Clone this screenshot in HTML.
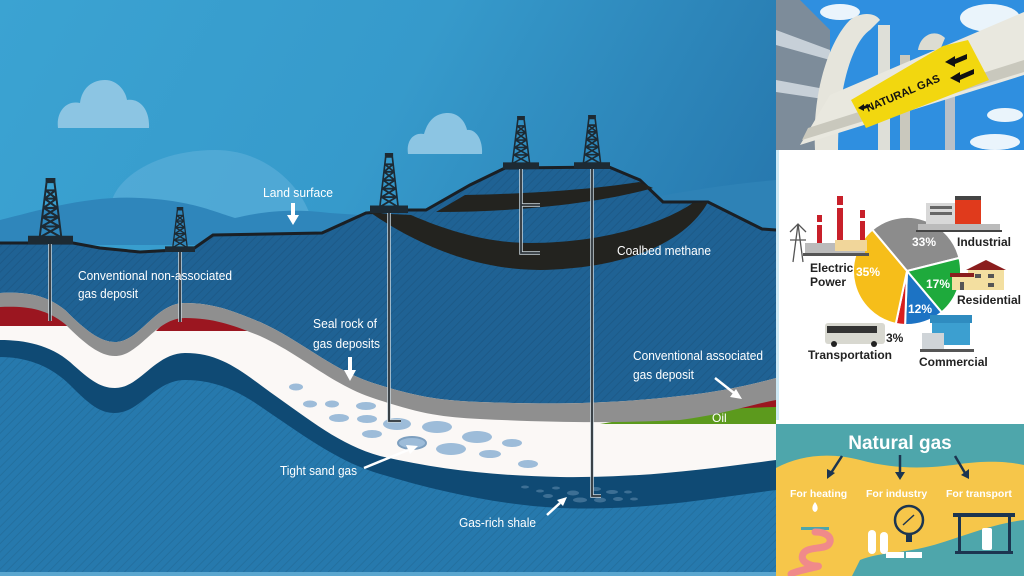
<!DOCTYPE html>
<html><head><meta charset="utf-8"><style>
html,body{margin:0;padding:0;width:1024px;height:576px;overflow:hidden;background:#fff}
svg{display:block}
.lb{font-family:"Liberation Sans Narrow","Liberation Sans",sans-serif;font-size:13px;fill:#fff}
.pl{font-family:"Liberation Sans Narrow","Liberation Sans",sans-serif;font-size:12px;font-weight:bold;fill:#222}
.pc{font-family:"Liberation Sans",sans-serif;font-size:12px;font-weight:bold;fill:#fff}
.ng{font-family:"Liberation Sans",sans-serif;font-weight:bold;fill:#fff}
</style></head><body>
<svg width="1024" height="576" viewBox="0 0 1024 576" xmlns="http://www.w3.org/2000/svg">
<defs>
<linearGradient id="sky" x1="0" y1="0" x2="1" y2="0.4">
<stop offset="0" stop-color="#3ba3d2"/><stop offset="0.5" stop-color="#369acb"/><stop offset="1" stop-color="#2677ad"/></linearGradient>
<pattern id="st" width="6" height="6" patternUnits="userSpaceOnUse" patternTransform="rotate(45)">
<rect width="6" height="6" fill="none"/><line x1="0" y1="0" x2="0" y2="6" stroke="#000" stroke-opacity="0.08" stroke-width="2"/></pattern>
<symbol id="der" viewBox="0 0 46 64" preserveAspectRatio="none">
<rect x="18" y="0" width="10" height="4" fill="#1d2a33"/>
<path d="M19,4 L12,57 M27,4 L34,57 M19,4 L27,4 M18,12 L28,12 M17,20 L29,20 M16,29 L30,29 M15,38 L31,38 M14,47 L32,47 M18,12 L29,20 M28,12 L17,20 M17,20 L30,29 M29,20 L16,29 M16,29 L31,38 M30,29 L15,38 M15,38 L32,47 M31,38 L14,47 M14,47 L33,57 M32,47 L13,57" stroke="#1d2a33" stroke-width="2" fill="none"/>
<rect x="0" y="56" width="46" height="8" fill="#1d2a33"/>
</symbol>
</defs>
<rect x="0" y="0" width="776" height="576" fill="url(#sky)"/>
<g fill="#8cc5e3">
<path d="M58,128 C56,112 66,100 80,103 C82,88 92,80 105,80 C118,80 126,92 127,100 C140,98 150,110 149,128 Z"/>
<path d="M408,154 C406,140 414,132 424,134 C428,120 436,113 448,113 C460,113 466,124 467,130 C476,129 483,140 482,154 Z"/>
</g>
<path d="M112,200 C120,175 160,150 215,150 C265,150 300,185 310,215 L310,245 L112,245Z" fill="#5aaed8" opacity="0.7"/>
<path d="M0,220 C40,210 90,195 140,198 C190,200 215,212 235,218 C260,212 290,208 330,213 L360,215 L360,245 L0,245Z" fill="#2f86bb"/>
<path d="M640,200 C680,192 720,185 776,180 L776,240 L640,240Z" fill="#2e82b6"/>
<path d="M0,243 L73,243 L100,248 L140,252 L193,249 L213,235 L322,233 L366,213 L408,210 L426,210 L470,185 L505,168 L609,167 L640,180 L663,202 L708,202 L762,229 L776,230 L776,576 L0,576Z" fill="#1f6294"/>
<path d="M0,243 L73,243 L100,248 L140,252 L193,249 L213,235 L322,233 L366,213 L408,210 L426,210 L470,185 L505,168 L609,167 L640,180 L663,202 L708,202 L762,229 L776,230 L776,576 L0,576Z" fill="url(#st)"/>
<path d="M0,243 L73,243 L100,248 L140,252 L193,249 L213,235 L322,233 L366,213 L408,210 L426,210 L470,185 L505,168 L609,167 L640,180 L663,202 L708,202 L762,229 L776,230" fill="none" stroke="#1a1f24" stroke-width="3"/>
<path d="M465,195 C520,194 590,190 639,182 L653,188 C600,203 520,212 436,212 Z" fill="#23231f"/>
<path d="M371,213 L411,215 C450,232 490,243 530,243 C600,243 660,225 693,203 L708,202 C690,235 640,268 540,270 C470,270 410,240 371,213 Z" fill="#23231f"/>
<path d="M0,293 C25,292 45,294 65,310 C85,330 100,342 115,342 C140,342 155,303 185,303 C215,303 235,312 260,322 C300,340 330,368 370,382 C420,398 440,400 480,402 C560,405 620,403 680,396 C720,392 750,385 776,378 L776,576 L0,576Z" fill="#fbf8f6"/>
<path d="M0,340 C25,340 50,345 70,362 C90,380 100,388 115,388 C140,388 155,353 185,353 C220,353 240,370 270,392 C310,420 340,445 380,456 C440,470 500,476 560,477 C640,478 700,470 776,460 L776,576 L0,576Z" fill="#0f4a74"/>
<path d="M0,357 C25,357 50,365 70,385 C90,405 100,413 115,413 C140,413 155,380 185,380 C220,380 245,395 270,413 C310,440 340,462 380,474 C440,492 500,505 560,508 C640,511 700,500 776,490 L776,576 L0,576Z" fill="#2679ad"/>
<path d="M0,357 C25,357 50,365 70,385 C90,405 100,413 115,413 C140,413 155,380 185,380 C220,380 245,395 270,413 C310,440 340,462 380,474 C440,492 500,505 560,508 C640,511 700,500 776,490 L776,576 L0,576Z" fill="url(#st)"/>
<rect x="0" y="572" width="776" height="4" fill="#5aa6cf"/>
<path d="M0,304 L30,304 C50,308 62,318 73,326 L0,326 Z" fill="#9b1620"/>
<path d="M156,331 C166,320 178,314 190,314 C212,314 232,322 248,331 Z" fill="#9b1620"/>
<path d="M600,424 Q690,408 776,406 L776,424 Z" fill="#5c9a1d"/>
<path d="M688,412 L776,392 L776,407 Q730,408 688,412Z" fill="#9b1620"/>
<path d="M0,293 C25,292 45,294 65,310 C85,330 100,342 115,342 C140,342 155,303 185,303 C215,303 235,312 260,322 C300,340 330,368 370,382 C420,398 440,400 480,402 C560,405 620,403 680,396 C720,392 750,385 776,378 L776,400 C750,405 720,415 680,420 C620,423 560,423 480,419 C440,417 420,414 370,397 C330,383 300,354 260,336 C235,326 215,318 185,318 C155,318 140,356 115,356 C100,356 85,344 65,324 C45,308 25,306 0,307Z" fill="#8f8f8f"/>
<text x="712" y="422" class="lb" style="font-size:12px">Oil</text>
<g fill="#9dbcd9">
<ellipse cx="296" cy="387" rx="7" ry="3.5"/><ellipse cx="310" cy="404" rx="7" ry="3.5"/><ellipse cx="332" cy="404" rx="7" ry="3.5"/>
<ellipse cx="366" cy="406" rx="10" ry="4"/><ellipse cx="339" cy="418" rx="10" ry="4"/><ellipse cx="367" cy="419" rx="10" ry="4"/>
<ellipse cx="397" cy="424" rx="14" ry="6"/><ellipse cx="437" cy="427" rx="15" ry="6"/><ellipse cx="372" cy="434" rx="10" ry="4"/>
<ellipse cx="412" cy="443" rx="14" ry="6" stroke="#7d9fbf" stroke-width="2"/><ellipse cx="477" cy="437" rx="15" ry="6"/><ellipse cx="451" cy="449" rx="15" ry="6"/>
<ellipse cx="512" cy="443" rx="10" ry="4"/><ellipse cx="490" cy="454" rx="11" ry="4"/><ellipse cx="528" cy="464" rx="10" ry="4"/>
</g>
<g fill="#3d6f94">
<ellipse cx="525" cy="487" rx="4" ry="1.5"/><ellipse cx="540" cy="491" rx="4" ry="1.5"/><ellipse cx="556" cy="488" rx="4" ry="1.5"/><ellipse cx="548" cy="496" rx="5" ry="2"/>
<ellipse cx="573" cy="493" rx="6" ry="2.5"/><ellipse cx="580" cy="500" rx="7" ry="2.5"/><ellipse cx="596" cy="489" rx="5" ry="2"/><ellipse cx="600" cy="500" rx="6" ry="2.5"/>
<ellipse cx="612" cy="492" rx="6" ry="2"/><ellipse cx="618" cy="499" rx="5" ry="2"/><ellipse cx="628" cy="492" rx="4" ry="1.5"/><ellipse cx="634" cy="499" rx="4" ry="1.5"/>
</g>
<g fill="none" stroke="#c8d3da" stroke-width="3.5">
<path d="M50,243 V321"/><path d="M180,250 V322"/><path d="M389,212 V421 H401"/>
<path d="M521,167 V253 H540 M521,205 H540"/><path d="M592,167 V496 H601"/>
</g>
<g fill="none" stroke="#2b3238" stroke-width="1.8">
<path d="M50,243 V321"/><path d="M180,250 V322"/><path d="M389,212 V421 H401"/>
<path d="M521,167 V253 H540 M521,205 H540"/><path d="M592,167 V496 H601"/>
</g>
<use href="#der" x="28" y="178" width="45" height="66"/>
<use href="#der" x="165" y="207" width="30" height="45"/>
<use href="#der" x="370" y="153" width="38" height="60"/>
<use href="#der" x="503" y="116" width="36" height="53"/>
<use href="#der" x="574" y="115" width="36" height="54"/>
<g fill="#fff" stroke="none">
<path d="M291,203 h4 v12 h4 l-6,10 l-6,-10 h4z"/>
<path d="M348,357 h4 v13 h4 l-6,11 l-6,-11 h4z"/>
</g>
<g stroke="#fff" stroke-width="2.5" fill="#fff">
<line x1="715" y1="378" x2="734" y2="393"/><path d="M742,399 l-12,-2 l6,-8z" stroke="none"/>
<line x1="364" y1="468" x2="408" y2="450"/><path d="M418,446 l-12,-1 l4,9z" stroke="none"/>
<line x1="547" y1="515" x2="560" y2="503"/><path d="M567,497 l-10,3 l6,6z" stroke="none"/>
</g>
<text x="263" y="197" class="lb" textLength="70" lengthAdjust="spacingAndGlyphs">Land surface</text>
<text x="78" y="280" class="lb" textLength="154" lengthAdjust="spacingAndGlyphs">Conventional non-associated</text>
<text x="78" y="298" class="lb" textLength="60" lengthAdjust="spacingAndGlyphs">gas deposit</text>
<text x="313" y="328" class="lb" textLength="64" lengthAdjust="spacingAndGlyphs">Seal rock of</text>
<text x="313" y="348" class="lb" textLength="67" lengthAdjust="spacingAndGlyphs">gas deposits</text>
<text x="617" y="255" class="lb" textLength="94" lengthAdjust="spacingAndGlyphs">Coalbed methane</text>
<text x="633" y="360" class="lb" textLength="130" lengthAdjust="spacingAndGlyphs">Conventional associated</text>
<text x="633" y="379" class="lb" textLength="61" lengthAdjust="spacingAndGlyphs">gas deposit</text>
<text x="280" y="475" class="lb" textLength="77" lengthAdjust="spacingAndGlyphs">Tight sand gas</text>
<text x="459" y="527" class="lb" textLength="77" lengthAdjust="spacingAndGlyphs">Gas-rich shale</text>

<rect x="776" y="0" width="248" height="150" fill="#2f8fe0"/>
<g fill="#fff" opacity="0.9">
<ellipse cx="840" cy="12" rx="20" ry="8"/><ellipse cx="990" cy="18" rx="30" ry="14"/><ellipse cx="1005" cy="115" rx="18" ry="7"/><ellipse cx="995" cy="142" rx="25" ry="8"/>
</g>
<path d="M776,0 L800,0 L830,30 L830,150 L776,150Z" fill="#7d8c9a"/>
<path d="M776,30 L830,50 L830,60 L776,45Z M776,80 L830,90 L830,100 L776,92Z" fill="#c7d0d8"/>
<rect x="878" y="25" width="12" height="125" fill="#dedfd8"/>
<rect x="900" y="55" width="10" height="95" fill="#c9c8bd"/>
<rect x="945" y="95" width="10" height="55" fill="#b8c0c8"/>
<path d="M815,150 C812,90 830,40 850,20 C860,12 875,12 880,20 L870,30 C855,40 838,80 838,150Z" fill="#e6e5dc"/>
<path d="M918,50 C920,35 935,28 945,38 L940,50Z" fill="#dcdcd2"/>
<path d="M800,145 L1024,75 L1024,12 L830,95 Z" fill="#e9e8df"/>
<path d="M802,140 L1024,72 L1024,60 L808,128Z" fill="#c9c8bd"/>
<path d="M851,100 L866,128 L989,80 L968,40 L943,46 Z" fill="#f2d70f"/>
<text x="0" y="0" transform="translate(868,112) rotate(-23)" style="font-family:'Liberation Sans',sans-serif;font-weight:bold;font-size:11px;fill:#111">NATURAL GAS</text>
<g fill="#111"><path d="M945,62 l10,-6 v3 l12,-5 v5 l-12,5 v3z"/><path d="M950,78 l10,-6 v3 l14,-6 v5 l-14,6 v3z"/><path d="M858,108 l6,-4 v2 l6,-2 v3 l-6,2 v2z"/></g>
<rect x="776" y="150" width="248" height="272" fill="#fff"/>
<rect x="776" y="150" width="3" height="272" fill="#cde9f5"/>
<g stroke="#fff" stroke-width="2">
<path d="M907,271 L872.3,229.6 A54,54 0 0 1 959.4,257.9 Z" fill="#8c8c8c"/>
<path d="M907,271 L959.4,257.9 A54,54 0 0 1 941.7,312.4 Z" fill="#1eaa3c"/>
<path d="M907,271 L941.7,312.4 A54,54 0 0 1 905.1,325 Z" fill="#1c73c4"/>
<path d="M907,271 L905.1,325 A54,54 0 0 1 895.8,323.8 Z" fill="#d81e1e"/>
<path d="M907,271 L895.8,323.8 A54,54 0 0 1 872.3,229.6 Z" fill="#f6be1a"/>
</g>
<text x="912" y="246" class="pc">33%</text>
<text x="856" y="276" class="pc">35%</text>
<text x="926" y="288" class="pc">17%</text>
<text x="908" y="313" class="pc">12%</text>
<text x="886" y="342" class="pc" style="fill:#222">3%</text>
<g>
<path d="M790,232 l8,-8 l8,8 M793,262 l5,-38 l5,38 M790,240 h16" stroke="#555" stroke-width="1.3" fill="none"/>
<rect x="817" y="215" width="5" height="35" fill="#c8202a"/><rect x="837" y="196" width="6" height="54" fill="#c8202a"/><rect x="860" y="210" width="5" height="40" fill="#c8202a"/>
<rect x="817" y="222" width="5" height="3" fill="#fff"/><rect x="837" y="205" width="6" height="3" fill="#fff"/><rect x="860" y="218" width="5" height="3" fill="#fff"/>
<rect x="805" y="243" width="60" height="10" fill="#bbb"/><rect x="835" y="240" width="32" height="11" fill="#f1d69a"/>
<rect x="803" y="253" width="66" height="3" fill="#555"/>
</g>
<g><rect x="926" y="203" width="30" height="22" fill="#d8d8d8"/><rect x="930" y="206" width="22" height="3" fill="#666"/><rect x="930" y="212" width="22" height="3" fill="#666"/>
<rect x="955" y="198" width="26" height="26" fill="#e03a1c"/><rect x="955" y="196" width="26" height="4" fill="#444"/>
<rect x="918" y="224" width="82" height="6" fill="#bbb"/><rect x="916" y="230" width="86" height="2" fill="#444"/></g>
<text x="957" y="246" class="pl">Industrial</text>
<text x="810" y="272" class="pl">Electric</text>
<text x="810" y="286" class="pl">Power</text>
<g><path d="M966,270 l20,-10 l20,10z" fill="#8b1e1e"/><rect x="968" y="270" width="36" height="20" fill="#f3dfa0"/><rect x="952" y="276" width="20" height="14" fill="#f3dfa0"/><rect x="950" y="273" width="24" height="4" fill="#8b1e1e"/>
<rect x="960" y="282" width="4" height="8" fill="#555"/><rect x="975" y="274" width="6" height="4" fill="#555"/><rect x="988" y="274" width="6" height="4" fill="#555"/><rect x="988" y="283" width="6" height="4" fill="#555"/></g>
<text x="957" y="304" class="pl">Residential</text>
<g><rect x="930" y="315" width="42" height="8" fill="#2f8cc0"/><rect x="932" y="323" width="38" height="22" fill="#3c9fd0"/><rect x="922" y="333" width="22" height="16" fill="#cfd4d8"/><rect x="920" y="349" width="54" height="3" fill="#555"/></g>
<text x="919" y="366" class="pl">Commercial</text>
<g><rect x="825" y="323" width="60" height="21" rx="3" fill="#d8d8d0"/><rect x="827" y="326" width="50" height="7" fill="#333"/><circle cx="834" cy="344" r="3" fill="#222"/><circle cx="874" cy="344" r="3" fill="#222"/></g>
<text x="808" y="359" class="pl">Transportation</text>
<rect x="776" y="420" width="248" height="4" fill="#fff"/>
<rect x="776" y="424" width="248" height="152" fill="#4ea6ab"/>
<path d="M776,468 C800,455 830,452 860,460 C890,468 920,470 960,464 C990,460 1010,462 1024,465 L1024,520 C990,524 960,538 930,546 C900,554 880,552 860,560 L852,576 L776,576 Z" fill="#f6c64a"/>
<text x="900" y="449" text-anchor="middle" class="ng" style="font-size:19px">Natural gas</text>
<g stroke="#1c3550" stroke-width="2.5" fill="#1c3550">
<line x1="842" y1="456" x2="831" y2="473"/><path d="M827,479 l0,-10 l8,4z" stroke="none"/>
<line x1="900" y1="455" x2="900" y2="473"/><path d="M900,480 l-5,-8 h10z" stroke="none"/>
<line x1="955" y1="456" x2="965" y2="473"/><path d="M969,479 l-8,-4 l8,-6z" stroke="none"/>
</g>
<text x="790" y="497" class="ng" style="font-size:10.5px">For heating</text>
<text x="866" y="497" class="ng" style="font-size:10.5px">For industry</text>
<text x="946" y="497" class="ng" style="font-size:10.5px">For transport</text>
<path d="M815,502 c-4,5 -3,9 0,10 c3,-1 4,-5 0,-10z" fill="#fff"/>
<rect x="801" y="527" width="28" height="3" fill="#4ea6ab"/>
<path d="M815,532 c12,0 18,6 14,12 c-4,6 -22,2 -26,10 c-4,8 8,12 14,12 c8,0 -20,4 -26,8" fill="none" stroke="#f08a8a" stroke-width="7" stroke-linecap="round"/>
<circle cx="909" cy="520" r="14" fill="#f6c64a" stroke="#1c3550" stroke-width="2.5"/>
<line x1="903" y1="525" x2="914" y2="515" stroke="#1c3550" stroke-width="1.5"/>
<rect x="906" y="534" width="6" height="8" fill="#1c3550"/>
<rect x="868" y="530" width="8" height="24" rx="4" fill="#fff"/><rect x="880" y="532" width="8" height="22" rx="4" fill="#fff"/>
<rect x="886" y="552" width="18" height="6" fill="#fff"/><rect x="906" y="552" width="16" height="6" fill="#fff"/>
<rect x="953" y="513" width="62" height="4" fill="#1c3550"/>
<rect x="958" y="517" width="3" height="36" fill="#1c3550"/><rect x="1008" y="517" width="3" height="36" fill="#1c3550"/>
<rect x="955" y="551" width="58" height="3" fill="#1c3550"/>
<rect x="982" y="528" width="10" height="22" rx="2" fill="#fff"/>
</svg>
</body></html>
